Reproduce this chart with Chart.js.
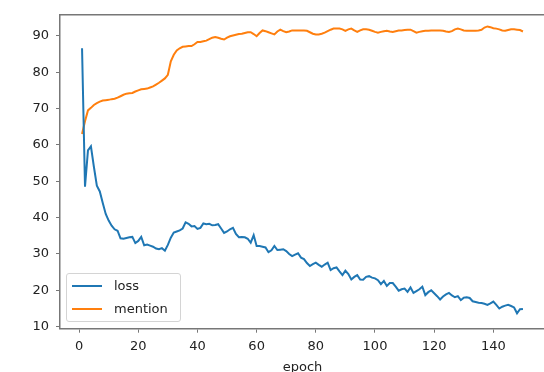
<!DOCTYPE html>
<html>
<head>
<meta charset="utf-8">
<script src="https://cdn.jsdelivr.net/npm/chart.js@4.4.1/dist/chart.umd.min.js"></script>
<style>
  html, body { margin: 0; padding: 0; background: #fff; overflow: hidden; }
  #wrap { position: relative; width: 544px; height: 372px; overflow: hidden; }
  #legend {
    position: absolute; left: 66px; top: 273px; width: 113px; height: 47px;
    border: 1px solid #d4d4d4; border-radius: 3px; background: rgba(255,255,255,0.85);
    font-family: "DejaVu Sans", sans-serif; font-size: 13px; color: #222;
  }
  .item { position: absolute; left: 0; height: 16px; line-height: 16px; }
  .swatch { position: absolute; left: 5px; top: 7px; width: 30px; height: 2px; }
  .label { position: absolute; left: 47px; top: 0; white-space: nowrap; }
</style>
</head>
<body>
<div id="wrap">
  <canvas id="lossChart" width="580" height="375"></canvas>
  <div id="legend"></div>
</div>
<script>
// Training curves: loss and mention per epoch

const epochs = [];
for (let e = 1; e <= 150; e++) epochs.push(e);

const lossValues = [
  86.6, 48.5, 58.5, 59.6, 54.0, 48.8, 47.2, 44.0, 41.0, 39.2,
  37.8, 36.8, 36.4, 34.3, 34.2, 34.4, 34.6, 34.7, 33.0, 33.6,
  34.7, 32.4, 32.6, 32.3, 32.0, 31.5, 31.3, 31.6, 30.9, 32.5,
  34.5, 35.9, 36.2, 36.5, 37.0, 38.7, 38.3, 37.6, 37.7, 36.9,
  37.2, 38.4, 38.2, 38.3, 37.9, 38.0, 38.2, 37.0, 35.8, 36.2,
  36.8, 37.2, 35.5, 34.6, 34.7, 34.6, 34.2, 33.1, 35.2, 32.2,
  32.2, 32.0, 31.8, 30.5, 31.0, 32.2, 31.1, 31.2, 31.3, 30.8,
  30.0, 29.4, 29.8, 30.2, 29.0, 28.6, 27.5, 26.7, 27.2, 27.6,
  27.0, 26.5, 27.1, 27.6, 25.6, 26.1, 26.3, 25.2, 24.2, 25.4,
  24.5, 23.0, 23.7, 24.2, 23.0, 22.9, 23.7, 23.9, 23.5, 23.3,
  22.8, 21.7, 22.6, 21.2, 22.0, 22.0, 21.0, 19.9, 20.3, 20.5,
  19.6, 20.8, 19.3, 19.8, 20.3, 21.0, 18.7, 19.5, 20.0, 19.2,
  18.4, 17.5, 18.3, 18.9, 19.3, 18.6, 18.1, 18.4, 17.3, 18.0,
  18.1, 17.9, 17.0, 16.8, 16.6, 16.5, 16.3, 16.0, 16.4, 16.9,
  16.0, 15.0, 15.5, 15.8, 16.0, 15.7, 15.3, 13.7, 14.8, 14.9
];

const mentionValues = [
  63.0, 66.5, 69.5, 70.2, 71.0, 71.5, 71.9, 72.2, 72.3, 72.4,
  72.6, 72.7, 73.0, 73.4, 73.8, 74.1, 74.2, 74.3, 74.7, 75.0,
  75.3, 75.4, 75.5, 75.8, 76.1, 76.6, 77.1, 77.7, 78.3, 79.3,
  83.0, 84.8, 86.0, 86.6, 87.0, 87.1, 87.2, 87.2, 87.7, 88.3,
  88.3, 88.5, 88.7, 89.1, 89.5, 89.7, 89.5, 89.2, 89.0, 89.5,
  89.9, 90.1, 90.3, 90.5, 90.6, 90.8, 91.0, 91.0, 90.5, 89.9,
  90.8, 91.5, 91.3, 91.0, 90.7, 90.4, 91.2, 91.7, 91.3, 91.0,
  91.2, 91.5, 91.5, 91.5, 91.5, 91.5, 91.4, 91.0, 90.6, 90.4,
  90.4, 90.6, 90.9, 91.3, 91.7, 92.0, 92.0, 92.0, 91.8, 91.4,
  91.8, 92.0, 91.5, 91.1, 91.5, 91.8, 91.8, 91.7, 91.4, 91.1,
  90.9, 91.1, 91.3, 91.4, 91.2, 91.1, 91.3, 91.5, 91.5, 91.6,
  91.7, 91.7, 91.3, 90.9, 91.1, 91.3, 91.4, 91.4, 91.5, 91.5,
  91.5, 91.5, 91.4, 91.2, 91.1, 91.3, 91.8, 92.0, 91.8, 91.5,
  91.4, 91.4, 91.4, 91.4, 91.5, 91.7, 92.3, 92.6, 92.4, 92.1,
  92.0, 91.8, 91.5, 91.4, 91.6, 91.8, 91.8, 91.7, 91.6, 91.2
];

const xTicks = [0, 20, 40, 60, 80, 100, 120, 140];
const yTicks = [10, 20, 30, 40, 50, 60, 70, 80, 90];
const seriesNames = ['loss', 'mention'];
const seriesColors = ['#1f77b4', '#ff7f0e'];

const toPoints = vals => vals.map((v, i) => ({ x: epochs[i], y: v }));
const tickFont = { family: 'DejaVu Sans', size: 13 };
const spine = '#777';

// top spine, like the matplotlib frame
const topSpine = {
  id: 'topSpine',
  afterDraw(c) {
    const { ctx, chartArea } = c;
    ctx.save();
    ctx.strokeStyle = spine;
    ctx.lineWidth = 1.5;
    ctx.beginPath();
    ctx.moveTo(chartArea.left - 0.75, chartArea.top);
    ctx.lineTo(chartArea.right, chartArea.top);
    ctx.stroke();
    ctx.restore();
  }
};

new Chart(document.getElementById('lossChart'), {
  type: 'line',
  data: {
    datasets: [lossValues, mentionValues].map((vals, i) => ({
      label: seriesNames[i],
      data: toPoints(vals),
      borderColor: seriesColors[i],
      backgroundColor: seriesColors[i],
      borderWidth: 2,
      pointRadius: 0,
      tension: 0
    }))
  },
  options: {
    responsive: false,
    animation: false,
    layout: { padding: { top: 14, right: 35, left: 0, bottom: 0 } },
    plugins: { legend: { display: false }, tooltip: { enabled: false } },
    scales: {
      x: {
        type: 'linear',
        min: -6.45,
        max: 157.45,
        afterBuildTicks: s => { s.ticks = xTicks.map(v => ({ value: v })); },
        afterFit: s => { s.height = 46.3; },
        grid: { drawOnChartArea: false, drawTicks: true, tickLength: 4, color: spine },
        border: { color: spine, width: 1.5 },
        ticks: { font: tickFont, color: '#222', padding: 6, maxRotation: 0 },
        title: { display: true, text: 'epoch', font: tickFont, color: '#222', padding: { top: 5, bottom: 0 } }
      },
      y: {
        min: 9.45,
        max: 95.8,
        afterBuildTicks: s => { s.ticks = yTicks.map(v => ({ value: v })); },
        afterFit: s => { s.width = 60; },
        grid: { drawOnChartArea: false, drawTicks: true, tickLength: 4, color: spine },
        border: { color: spine, width: 1.5 },
        ticks: { font: tickFont, color: '#222', padding: 7 }
      }
    }
  },
  plugins: [topSpine]
});

// legend inside the plot, lower left
const legend = document.getElementById('legend');
seriesNames.forEach((name, i) => {
  const item = document.createElement('div');
  item.className = 'item';
  item.style.top = (4 + i * 23) + 'px';
  item.innerHTML = '<span class="swatch" style="background:' + seriesColors[i] + '"></span>' +
    '<span class="label">' + name + '</span>';
  legend.appendChild(item);
});
</script>
</body>
</html>
